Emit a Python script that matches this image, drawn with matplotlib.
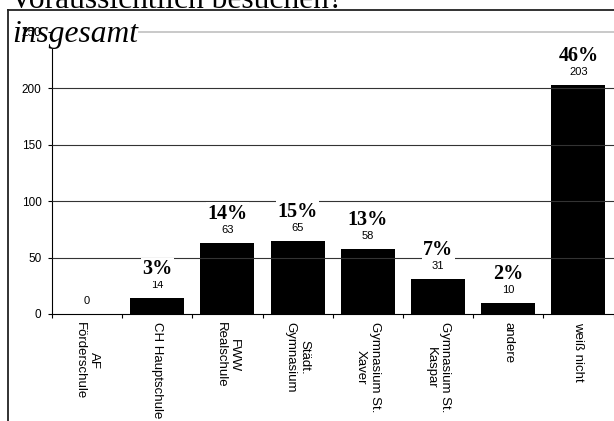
import matplotlib
matplotlib.use("Agg")
import matplotlib.pyplot as plt
from matplotlib.lines import Line2D
import numpy as np

# Daten
schulen = ["AF\nFörderschule", "CH Hauptschule", "FWW\nRealschule", "Städt.\nGymnasium",
           "Gymnasium St.\nXaver", "Gymnasium St.\nKaspar", "andere", "weiß nicht"]
anzahl = [0, 14, 63, 65, 58, 31, 10, 203]
y_ticks = [0, 50, 100, 150, 200, 250]

gesamt = sum(anzahl)
prozente = [round(v / gesamt * 100) for v in anzahl]

SANS = "Liberation Sans"
SERIF = "Liberation Serif"

W, H = 614, 421
fig = plt.figure(figsize=(W / 100, H / 100), dpi=100)
ax = fig.add_axes([52 / W, 1 - 314 / H, (613.5 - 52) / W, (314 - 32) / H])

x = np.arange(len(schulen))
ax.bar(x, anzahl, width=0.77, color="black", zorder=1)

ax.set_xlim(-0.5, len(schulen) - 0.5)
ax.set_ylim(0, 250)
ax.set_yticks(y_ticks)
ax.set_yticklabels([str(t) for t in y_ticks], fontsize=8.5, family=SANS)
ax.tick_params(axis="y", direction="out", length=3, width=0.8, pad=4.5, color="black")

ax.set_xticks(x)
ax.set_xticklabels(schulen, rotation=270, fontsize=9.5, family=SANS,
                   ha="center", va="top", multialignment="center")
ax.tick_params(axis="x", which="major", length=0, pad=6)
ax.set_xticks(np.arange(-0.5, len(schulen), 1), minor=True)
ax.tick_params(axis="x", which="minor", direction="out", length=3, width=0.8, color="black")

# Gitter
ax.set_axisbelow(True)
ax.yaxis.grid(True, color="#333333", lw=0.8)
ax.yaxis.get_gridlines()[-1].set_visible(False)
ax.yaxis.get_gridlines()[0].set_visible(False)

ax.spines["right"].set_visible(False)
ax.spines["top"].set_color("#c0c0c0")
ax.spines["top"].set_linewidth(1.2)
ax.spines["top"].set_zorder(1)
ax.spines["left"].set_zorder(1)
ax.spines["left"].set_linewidth(0.8)
ax.spines["bottom"].set_linewidth(0.8)
ax.yaxis.set_zorder(3)

# Beschriftungen
for i, (v, p) in enumerate(zip(anzahl, prozente)):
    ax.annotate(str(v), (i, v), xytext=(0, 7.2), textcoords="offset points",
                ha="center", va="baseline", fontsize=8, family=SANS, zorder=4)
    if p > 0:
        ax.annotate(f"{p}%", (i, v), xytext=(0, 17.3), textcoords="offset points",
                    ha="center", va="baseline", fontsize=14.5, fontweight="bold",
                    family=SERIF, zorder=5,
                    bbox=dict(facecolor="white", edgecolor="none", pad=1))

ax.text(12 / W, 1 - 42 / H, "insgesamt", transform=fig.transFigure, fontsize=22.7,
        style="italic", family=SERIF, va="baseline", ha="left", zorder=1.5,
        bbox=dict(facecolor="white", edgecolor="none", pad=0), clip_on=False)

# Rahmen und abgeschnittener Titel
fig.add_artist(Line2D([8 / W, 1.0], [1 - 10 / H] * 2, color="#222222", lw=1.3))
fig.add_artist(Line2D([8 / W] * 2, [0, 1 - 10 / H], color="#222222", lw=1.3))
fig.text(10 / W, 1 - 7.5 / H, "Voraussichtlich besuchen?", fontsize=22.7,
         family=SERIF, va="baseline", ha="left")

fig.savefig("out.png", dpi=100)
